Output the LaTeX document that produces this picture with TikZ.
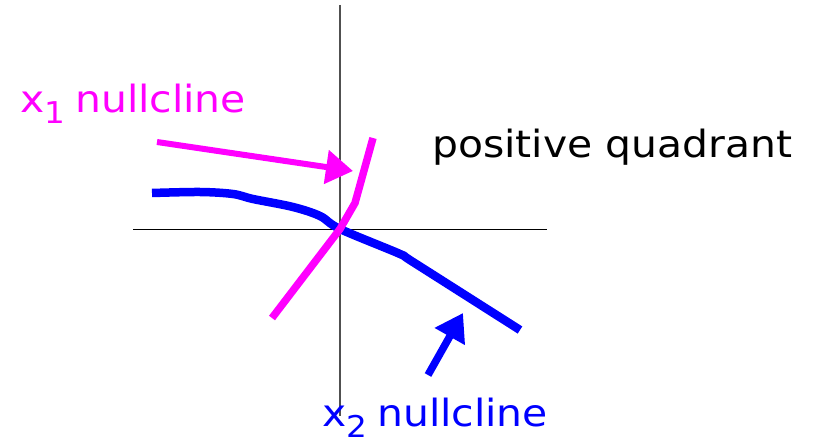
\documentclass[tikz,border=0pt]{standalone}
\usepackage{fontspec}
\setmainfont[FakeStretch=1.09]{DejaVu Sans}
\usetikzlibrary{arrows.meta}
\definecolor{mag}{HTML}{FF00FF}
\definecolor{blu}{HTML}{0000FF}
\definecolor{axisgray}{HTML}{505050}
\newcommand\mysub[1]{\raisebox{-11.5pt}[\height][0pt]{\fontsize{30}{30}\selectfont #1}}
\begin{document}
\begin{tikzpicture}[x=1pt,y=-1pt,
  lab/.style={inner sep=0pt, anchor=base west, font=\fontsize{37.5}{40}\selectfont},
  pointer/.style={-{Triangle[length=27pt,width=33pt]}},
  nullc/.style={line width=8.5pt, line cap=butt, line join=round}]
\useasboundingbox (0,0) rectangle (814,444);
% axes
\coordinate (vtop) at (340,5);
\coordinate (vbot) at (340,416);
\coordinate (hl) at (133,229);
\coordinate (hr) at (547,229);
\draw[axisgray, line width=1.3pt] (vtop) -- (vbot);
\draw[black, line width=1pt] (hl) -- (hr);
% labels
\node[lab, text=mag] (l1) at (20,112) {x\mysub{1}\hspace{-3pt} nullcline};
\node[lab, text=black] (pq) at (432,157) {positive quadrant};
\node[lab, text=blu] (l2) at (322,426) {x\mysub{2}\hspace{-3pt} nullcline};
% nullclines
\draw[blu, nullc] plot[smooth, tension=0.55] coordinates {(152,193) (200,192) (233,194) (253,199) (293,207) (320,216) (340,229) (400,254) (413,262) (520,330)};
\draw[mag, line width=7.5pt, line join=round] (272,318) -- (340,229) -- (355,203) -- (373,138);
% pointers
\coordinate (a1s) at (157,142);
\coordinate (a1e) at (353,171);
\coordinate (a2s) at (428,375);
\coordinate (a2e) at (463,313);
\draw[mag, line width=6pt, pointer] (a1s) -- (a1e);
\draw[blu, line width=7.5pt, pointer] (a2s) -- (a2e);
\end{tikzpicture}
\end{document}
